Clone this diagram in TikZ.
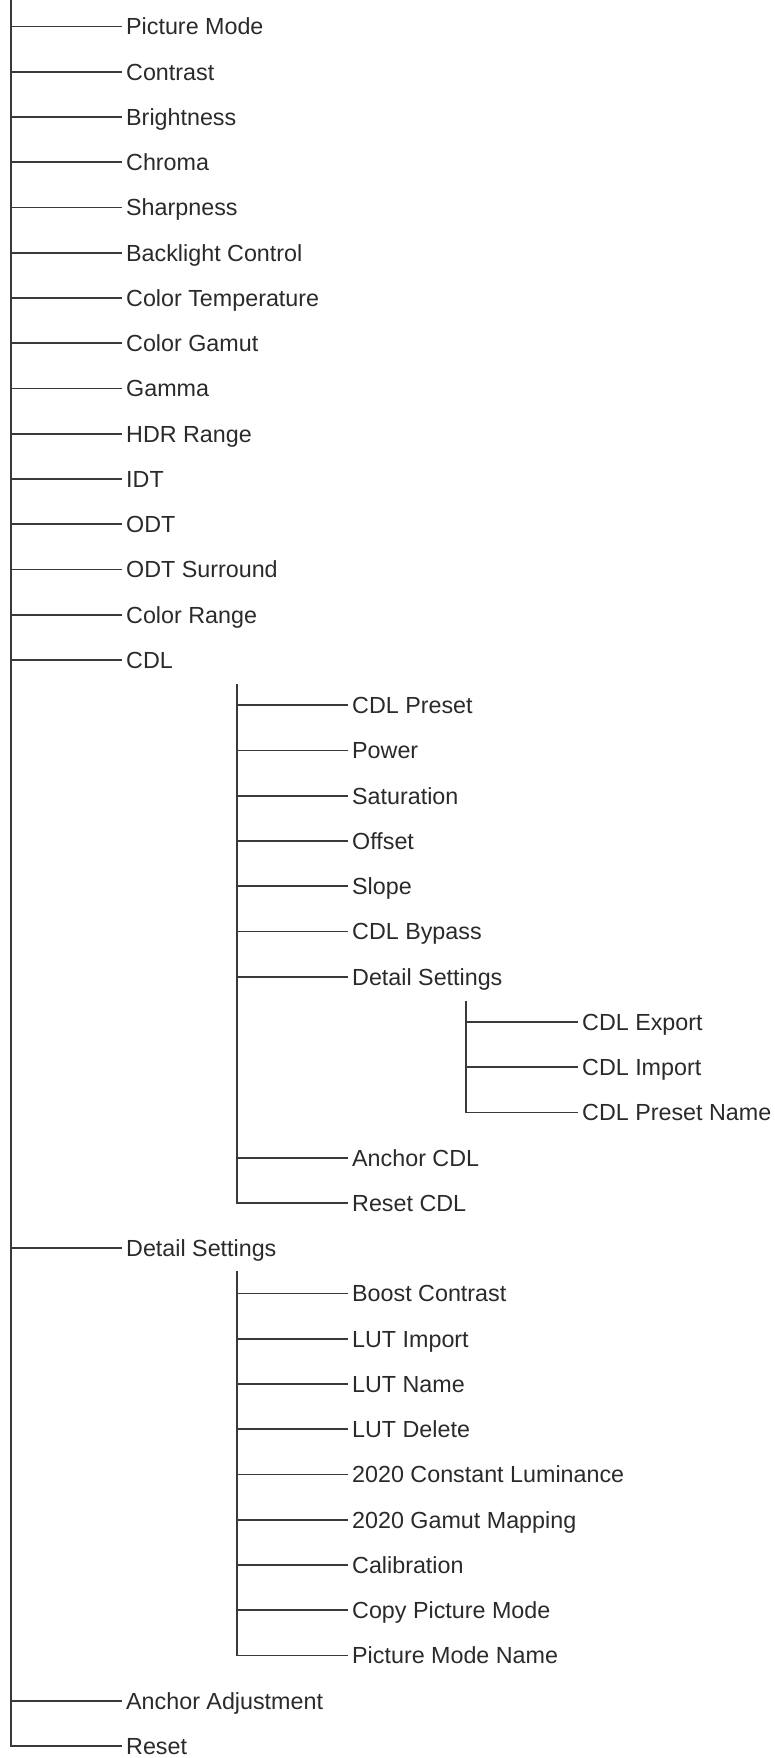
\documentclass[tikz,border=0pt]{standalone}
\usepackage{fontspec}
\setmainfont{Liberation Sans}
\definecolor{menuline}{HTML}{3A3A3A}
\definecolor{menutext}{HTML}{2A2A2A}
\tikzset{
  item/.style={anchor=west, inner xsep=4pt, inner ysep=0pt, text height=16.7pt,
    text depth=0pt, text=menutext, font=\fontsize{23.3}{28}\selectfont},
  branch/.style={draw=menuline, line width=1.7pt, line join=miter},
}
\begin{document}
\begin{tikzpicture}[x=1pt, y=-1pt]
  \useasboundingbox (0,0) rectangle (775,1758);
  % the trunks, one per level
  \coordinate (top0) at (11,0);
  \coordinate (topcdl) at (237,684);
  \coordinate (topdet) at (466,1001);
  \coordinate (topdetail) at (237,1271);
  % first level
  \foreach \n/\r/\t in {pm/0/Picture Mode, con/1/Contrast, bri/2/Brightness, chr/3/Chroma,
      sha/4/Sharpness, bkl/5/Backlight Control, ctmp/6/Color Temperature, cgam/7/Color Gamut,
      gam/8/Gamma, hdr/9/HDR Range, idt/10/IDT, odt/11/ODT, odts/12/ODT Surround,
      crng/13/Color Range, cdl/14/CDL, detail/27/Detail Settings, anchor/37/Anchor Adjustment,
      reset/38/Reset} {
    \node[item] (\n) at (122,{26.5+45.25*\r}) {\t};
  }
  % the CDL submenu
  \foreach \n/\r/\t in {cpre/15/CDL Preset, pow/16/Power, sat/17/Saturation, off/18/Offset,
      slo/19/Slope, cbyp/20/CDL Bypass, cdet/21/Detail Settings, canc/25/Anchor CDL,
      cres/26/Reset CDL} {
    \node[item] (\n) at (348,{26.5+45.25*\r}) {\t};
  }
  % its detail settings
  \foreach \n/\r/\t in {cexp/22/CDL Export, cimp/23/CDL Import, cname/24/CDL Preset Name} {
    \node[item] (\n) at (578,{26.5+45.25*\r}) {\t};
  }
  % the detail settings submenu
  \foreach \n/\r/\t in {boost/28/Boost Contrast, limp/29/LUT Import, lname/30/LUT Name,
      ldel/31/LUT Delete, lum/32/2020 Constant Luminance, gmap/33/2020 Gamut Mapping,
      cal/34/Calibration, copy/35/Copy Picture Mode, pmname/36/Picture Mode Name} {
    \node[item] (\n) at (348,{26.5+45.25*\r}) {\t};
  }
  % the connectors
  \draw[branch] (top0) |- (reset.west);
  \foreach \n in {pm,con,bri,chr,sha,bkl,ctmp,cgam,gam,hdr,idt,odt,odts,crng,cdl,detail,anchor}
    \draw[branch] (top0 |- \n.west) -- (\n.west);
  \draw[branch] (topcdl) |- (cres.west);
  \foreach \n in {cpre,pow,sat,off,slo,cbyp,cdet,canc}
    \draw[branch] (topcdl |- \n.west) -- (\n.west);
  \draw[branch] (topdet) |- (cname.west);
  \foreach \n in {cexp,cimp}
    \draw[branch] (topdet |- \n.west) -- (\n.west);
  \draw[branch] (topdetail) |- (pmname.west);
  \foreach \n in {boost,limp,lname,ldel,lum,gmap,cal,copy}
    \draw[branch] (topdetail |- \n.west) -- (\n.west);
\end{tikzpicture}
\end{document}
